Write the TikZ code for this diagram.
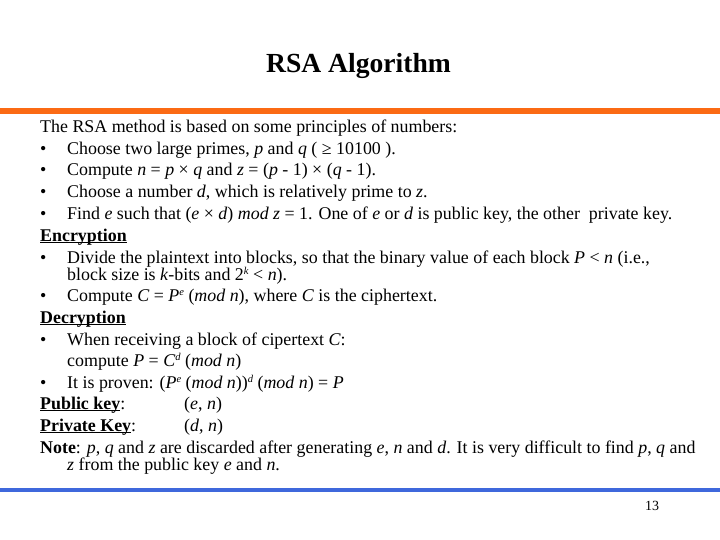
\documentclass[tikz,border=0pt]{standalone}
\usepackage{fontspec}
\setmainfont{Liberation Serif}
\newcommand{\vr}[1]{\textit{#1}}
\newcommand{\ul}[1]{\underline{\smash{\textbf{#1}}}}
\newcommand{\sps}[1]{\raisebox{.3em}{\fontsize{10.5}{10}\selectfont\textit{#1}}}
\definecolor{barorange}{HTML}{FB6A14}
\definecolor{barblue}{HTML}{3F68DC}
\tikzset{
  line/.style={anchor=base west, inner sep=0pt, font=\fontsize{17.9}{20}\selectfont}
}
\begin{document}
\begin{tikzpicture}[x=1pt,y=-1pt]
  \useasboundingbox (0,0) rectangle (720,540);

  \fill[barorange] (0,108) rectangle (720,114);
  \fill[barblue] (0,488) rectangle (720,492);

  \node[anchor=base, inner sep=0pt, font=\fontsize{27.6}{30}\bfseries] (title) at (358.5,73) {RSA Algorithm};
  \node[anchor=base, inner sep=0pt, font=\fontsize{14}{16}\selectfont] (page) at (652,510) {13};

  \begin{scope}[every node/.style={line}]
    \node (intro) at (40,133) {The RSA method is based on some principles of numbers:};
    \node (b1) at (40,155) {•};
    \node (t1) at (67,155) {Choose two large primes, \vr{p} and \vr{q} ( ≥ 10100 ).};
    \node (b2) at (40,176) {•};
    \node (t2) at (67,176) {Compute \vr{n} = \vr{p} × \vr{q} and \vr{z} = (\vr{p} - 1) × (\vr{q} - 1).};
    \node (b3) at (40,198) {•};
    \node (t3) at (67,198) {Choose a number \vr{d}, which is relatively prime to \vr{z}.};
    \node (b4) at (40,219) {•};
    \node (t4) at (67,219) {Find \vr{e} such that (\vr{e} × \vr{d}) \vr{mod z} = 1. One of \vr{e} or \vr{d} is public key, the other\ \ private key.};

    \node (enc) at (40,241) {\ul{Encryption}};
    \node (b5) at (40,263) {•};
    \node (t5) at (67,263) {Divide the plaintext into blocks, so that the binary value of each block \vr{P} < \vr{n} (i.e.,};
    \node (t5b) at (67,280) {block size is \vr{k}-bits and 2\sps{k} < \vr{n}).};
    \node (b6) at (40,301) {•};
    \node (t6) at (67,301) {Compute \vr{C} = \vr{P}\sps{e} (\vr{mod n}), where \vr{C} is the ciphertext.};

    \node (dec) at (40,323) {\ul{Decryption}};
    \node (b7) at (40,345) {•};
    \node (t7) at (67,345) {When receiving a block of cipertext \vr{C}:};
    \node (t7b) at (67,366) {compute \vr{P} = \vr{C}\sps{d} (\vr{mod n})};
    \node (b8) at (40,388) {•};
    \node (t8) at (67,388) {It is proven: (\vr{P}\sps{e} (\vr{mod n}))\sps{d} (\vr{mod n}) = \vr{P}};

    \node (pub) at (40,409) {\ul{Public key}:};
    \node (pubval) at (184,409) {(\vr{e}, \vr{n})};
    \node (priv) at (40,431) {\ul{Private Key}:};
    \node (privval) at (184,431) {(\vr{d}, \vr{n})};

    \node (note) at (40,453) {\textbf{Note}: \vr{p}, \vr{q} and \vr{z} are discarded after generating \vr{e}, \vr{n} and \vr{d}. It is very difficult to find \vr{p}, \vr{q} and};
    \node (noteb) at (67,470) {\vr{z} from the public key \vr{e} and \vr{n}.};
  \end{scope}

\end{tikzpicture}
\end{document}
